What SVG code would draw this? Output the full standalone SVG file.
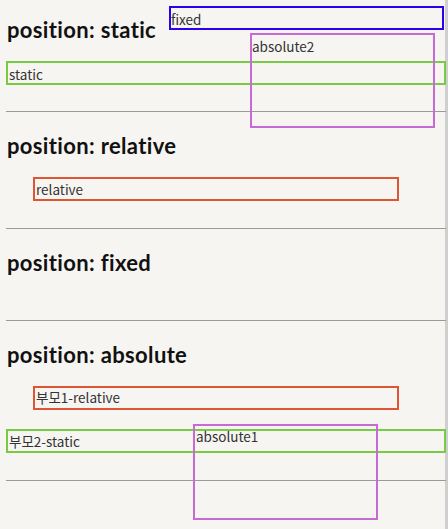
<svg xmlns="http://www.w3.org/2000/svg" width="448" height="529" viewBox="0 0 448 529">
<style>
.h{font-family:Lato,"Noto Sans",sans-serif;font-weight:bold;font-size:22px;letter-spacing:0.35px;fill:#111}
.t{font-family:"Noto Sans CJK KR","Noto Sans",sans-serif;font-size:13.5px;fill:#333}
.box{fill:none;stroke-width:2}
.g{stroke:#77cc44}
.o{stroke:#dd5533}
.p{stroke:#c86ad6}
.b{stroke:#2a00ee}
.hr{stroke:#9a9a9a;stroke-width:1.2}
</style>
<rect width="448" height="529" fill="#f6f5f1"/>
<rect x="445" y="0" width="3" height="529" fill="#cfcfcf"/>
<g id="sections">
<text class="h" x="7" y="38">position: static</text>
<line class="hr" x1="6" y1="111.5" x2="446" y2="111.5"/>
<text class="h" x="7" y="154">position: relative</text>
<line class="hr" x1="6" y1="228.5" x2="446" y2="228.5"/>
<text class="h" x="7" y="271">position: fixed</text>
<line class="hr" x1="6" y1="320.5" x2="446" y2="320.5"/>
<text class="h" x="7" y="363">position: absolute</text>
<line class="hr" x1="6" y1="480.5" x2="446" y2="480.5"/>
</g>
<g id="static"><rect class="box g" x="7" y="62" width="438" height="22"/><text class="t" x="9" y="80">static</text></g>
<g id="absolute2"><rect class="box p" x="251" y="34" width="183" height="93"/><text class="t" x="252" y="52">absolute2</text></g>
<g id="fixed"><rect class="box b" x="170" y="7" width="273" height="22"/><text class="t" x="171" y="25">fixed</text></g>
<g id="relative"><rect class="box o" x="34" y="178" width="364" height="22"/><text class="t" x="36" y="195">relative</text></g>
<g id="parent1"><rect class="box o" x="34" y="387" width="364" height="22"/><text class="t" x="36" y="403">부모1-relative</text></g>
<g id="parent2"><rect class="box g" x="7" y="430" width="438" height="22"/><text class="t" x="9" y="447">부모2-static</text></g>
<g id="absolute1"><rect class="box p" x="194" y="425" width="183" height="94"/><text class="t" x="196" y="442">absolute1</text></g>
</svg>
